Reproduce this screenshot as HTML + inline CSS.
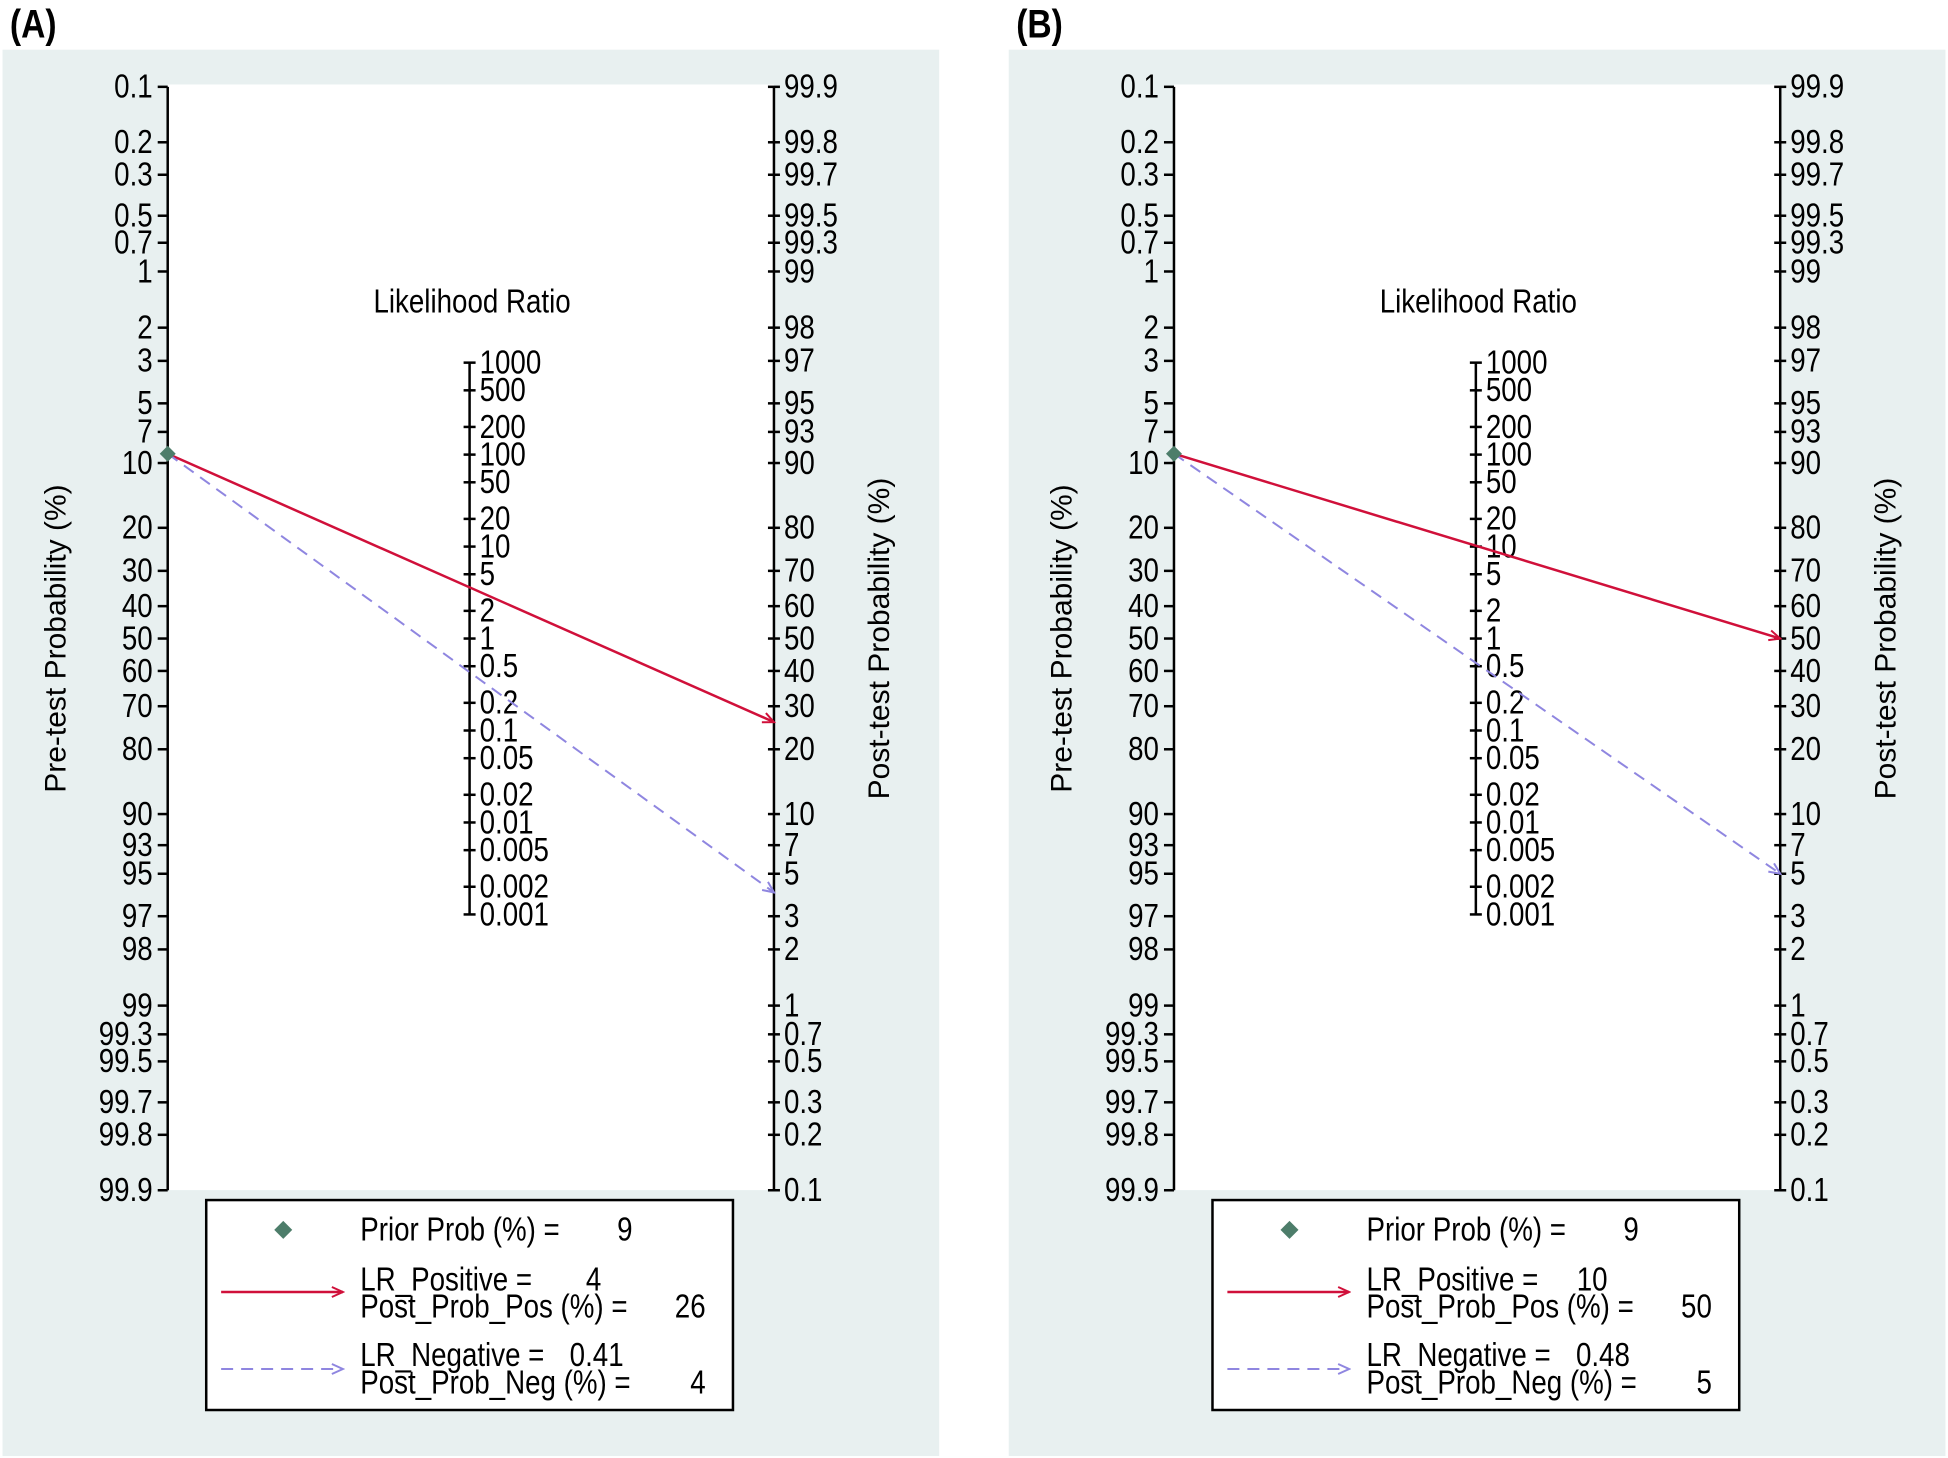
<!DOCTYPE html>
<html><head><meta charset="utf-8"><style>
html,body{margin:0;padding:0;background:#fff;width:1948px;height:1458px;overflow:hidden}
svg{display:block}
text{font-family:"Liberation Sans",Arial,sans-serif;fill:#000}
</style></head><body>
<svg id="chart" width="1948" height="1458" viewBox="0 0 1948 1458" xmlns="http://www.w3.org/2000/svg"></svg>
<script>
const panelLabels = ["(A)", "(B)"];
const priorProb = [9, 9];
const lrPositive = [4, 10];
const postProbPos = [26, 50];
const lrNegative = [0.41, 0.48];
const postProbNeg = [4, 5];
const leftTicks = [0.1,0.2,0.3,0.5,0.7,1,2,3,5,7,10,20,30,40,50,60,70,80,90,93,95,97,98,99,99.3,99.5,99.7,99.8,99.9];
const rightTicks = [99.9,99.8,99.7,99.5,99.3,99,98,97,95,93,90,80,70,60,50,40,30,20,10,7,5,3,2,1,0.7,0.5,0.3,0.2,0.1];
const lrTicks = [1000,500,200,100,50,20,10,5,2,1,0.5,0.2,0.1,0.05,0.02,0.01,0.005,0.002,0.001];

const NS = "http://www.w3.org/2000/svg";
const svg = document.getElementById('chart');
const S = 1.2423;
const CY = 514*S, K = 64.3*S;
const SX = 0.84;
function logit(p){ p=p/100; return Math.log(p/(1-p)); }
function yLeft(p){ return CY + K*logit(p); }
function yRight(p){ return CY - K*logit(p); }
function yLR(v){ return CY - (K/2)*Math.log(v); }
function el(tag, attrs, parent){
  const e = document.createElementNS(NS, tag);
  for (const k in attrs) e.setAttribute(k, attrs[k]);
  (parent||svg).appendChild(e); return e;
}
function txt(str, attrs, parent){
  const t = el('text', attrs, parent); t.textContent = str;
  if (!attrs.transform) {
    const x = attrs.x, y = attrs.y;
    t.setAttribute('transform', `translate(${x},${y}) scale(${SX},1) translate(${-x},${-y})`);
  }
  return t;
}

const defs = el('defs', {});
const mr = el('marker', {id:'arrR', markerWidth:14, markerHeight:14, refX:12, refY:6, orient:'auto', markerUnits:'userSpaceOnUse'}, defs);
el('path', {d:'M1,1 L12,6 L1,11', fill:'none', stroke:'#d0103a', 'stroke-width':2}, mr);
const mb = el('marker', {id:'arrB', markerWidth:14, markerHeight:14, refX:12, refY:6, orient:'auto', markerUnits:'userSpaceOnUse'}, defs);
el('path', {d:'M1,1 L12,6 L1,11', fill:'none', stroke:'#8f86e0', 'stroke-width':2}, mb);

const FS = 33;
for (let i = 0; i < 2; i++) {
  const ox = i * 810 * S;
  const g = el('g', {});
  
  
  const bg = el('rect', {x: ox + 2*S, y: 40*S, width: 754*S, height: 1132*S, fill:'#e8f0f0'}, g);
  
  
  const pa = el('rect', {x: ox + 135*S, y: 68*S, width: 488*S, height: 890*S, fill:'#fff'}, g);
  
  
  const pl = txt(panelLabels[i], {x: ox + 8*S, y: 30*S, 'font-size': 40, 'font-weight': 'bold'}, g);
  
  

  const xL = ox + 135*S, xR = ox + 623*S, xM = ox + 378*S;
  const la = el('g', {}, g);
  
  
  el('line', {x1:xL, y1:yLeft(0.1), x2:xL, y2:yLeft(99.9), stroke:'#000', 'stroke-width':2.5}, la);
  leftTicks.forEach(v => {
    const y = yLeft(v);
    el('line', {x1:xL-10, y1:y, x2:xL, y2:y, stroke:'#000', 'stroke-width':2.5}, la);
    txt(String(v), {x:xL-15, y:y, 'font-size':FS, 'text-anchor':'end', 'dominant-baseline':'central'}, la);
  });
  const ra = el('g', {}, g);
  
  
  el('line', {x1:xR, y1:yRight(99.9), x2:xR, y2:yRight(0.1), stroke:'#000', 'stroke-width':2.5}, ra);
  rightTicks.forEach(v => {
    const y = yRight(v);
    el('line', {x1:xR-6, y1:y, x2:xR+6, y2:y, stroke:'#000', 'stroke-width':2.5}, ra);
    txt(String(v), {x:xR+10, y:y, 'font-size':FS, 'dominant-baseline':'central'}, ra);
  });
  const ma = el('g', {}, g);
  
  
  el('line', {x1:xM, y1:yLR(1000), x2:xM, y2:yLR(0.001), stroke:'#000', 'stroke-width':2.5}, ma);
  lrTicks.forEach(v => {
    const y = yLR(v);
    el('line', {x1:xM-6, y1:y, x2:xM+6, y2:y, stroke:'#000', 'stroke-width':2.5}, ma);
    txt(String(v), {x:xM+10, y:y, 'font-size':FS, 'dominant-baseline':'central'}, ma);
  });
  const lt = txt('Likelihood Ratio', {x: ox + 380*S, y: 243*S, 'font-size':FS, 'text-anchor':'middle', 'dominant-baseline':'central'}, g);
  
  
  const yt1 = txt('Pre-test Probability (%)', {x:0, y:0, 'font-size':30, 'text-anchor':'middle', 'dominant-baseline':'central', transform:`translate(${ox+45*S},${514*S}) rotate(-90)`}, g);
  
  
  const yt2 = txt('Post-test Probability (%)', {x:0, y:0, 'font-size':30, 'text-anchor':'middle', 'dominant-baseline':'central', transform:`translate(${ox+708*S},${514*S}) rotate(-90)`}, g);
  
  

  const y0 = yLeft(priorProb[i]);
  const pos = el('line', {x1:xL, y1:y0, x2:xR, y2:yRight(postProbPos[i]), stroke:'#d0103a', 'stroke-width':2.5, 'marker-end':'url(#arrR)'}, g);
  
  
  const neg = el('line', {x1:xL, y1:y0, x2:xR, y2:yRight(postProbNeg[i]), stroke:'#8f86e0', 'stroke-width':2, 'stroke-dasharray':'12,8', 'marker-end':'url(#arrB)'}, g);
  
  
  const d = 8;
  const dm = el('path', {d:`M${xL},${y0-d} L${xL+d},${y0} L${xL},${y0+d} L${xL-d},${y0} Z`, fill:'#4d7d6a'}, g);
  
  

  const lg = el('g', {}, g);
  
  
  el('rect', {x: ox+166*S, y: 966*S, width: 424*S, height: 169*S, fill:'#fff', stroke:'#000', 'stroke-width':2.5}, lg);
  const dx = ox+228*S, dy = 990*S;
  el('path', {d:`M${dx},${dy-9} L${dx+9},${dy} L${dx},${dy+9} L${dx-9},${dy} Z`, fill:'#4d7d6a'}, lg);
  const tx = ox+290*S;
  const fs = {'font-size':FS, 'dominant-baseline':'central'};
  txt('Prior Prob (%) =', Object.assign({x:tx, y:990*S}, fs), lg);
  txt(String(priorProb[i]), Object.assign({x:ox+503*S, y:990*S, 'text-anchor':'middle'}, fs), lg);
  el('line', {x1:ox+178*S, y1:1040*S, x2:ox+276*S, y2:1040*S, stroke:'#d0103a', 'stroke-width':2.5, 'marker-end':'url(#arrR)'}, lg);
  txt('LR_Positive =', Object.assign({x:tx, y:1030*S}, fs), lg);
  txt(String(lrPositive[i]), Object.assign({x:ox+484*S, y:1030*S, 'text-anchor':'end'}, fs), lg);
  txt('Post_Prob_Pos (%) =', Object.assign({x:tx, y:1052*S}, fs), lg);
  txt(String(postProbPos[i]), Object.assign({x:ox+568*S, y:1052*S, 'text-anchor':'end'}, fs), lg);
  el('line', {x1:ox+178*S, y1:1102*S, x2:ox+276*S, y2:1102*S, stroke:'#8f86e0', 'stroke-width':2, 'stroke-dasharray':'12,8', 'marker-end':'url(#arrB)'}, lg);
  txt('LR_Negative =', Object.assign({x:tx, y:1091*S}, fs), lg);
  txt(String(lrNegative[i]), Object.assign({x:ox+502*S, y:1091*S, 'text-anchor':'end'}, fs), lg);
  txt('Post_Prob_Neg (%) =', Object.assign({x:tx, y:1113*S}, fs), lg);
  txt(String(postProbNeg[i]), Object.assign({x:ox+568*S, y:1113*S, 'text-anchor':'end'}, fs), lg);
}
</script>
</body></html>
